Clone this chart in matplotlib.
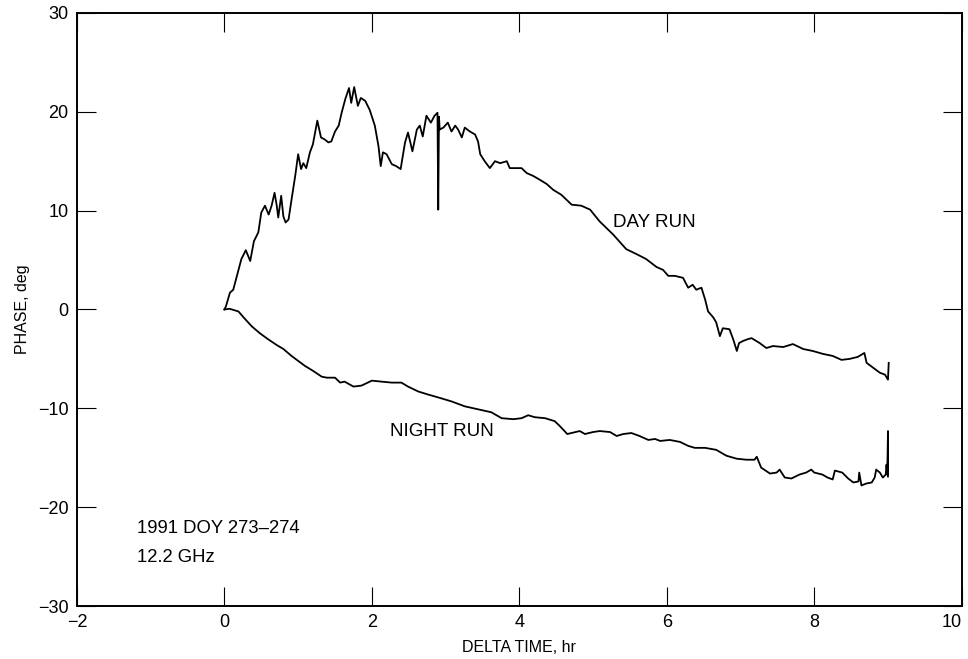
import matplotlib
matplotlib.use('Agg')
import matplotlib.pyplot as plt

plt.rcParams['font.family'] = ['Liberation Sans', 'DejaVu Sans']

# day run
day_t = [0.0, 0.02, 0.075, 0.12, 0.19, 0.23, 0.29, 0.35, 0.40, 0.46, 0.50, 0.55, 0.60, 0.64,
         0.68, 0.71, 0.73, 0.77, 0.80, 0.83, 0.87, 0.91, 0.96, 1.00, 1.04, 1.07, 1.11, 1.16,
         1.20, 1.26, 1.31, 1.36, 1.41, 1.45, 1.50, 1.55, 1.59, 1.64, 1.69, 1.72, 1.76, 1.81,
         1.85, 1.91, 1.97, 2.04, 2.09, 2.12, 2.15, 2.20, 2.27, 2.33, 2.39, 2.45, 2.49, 2.55,
         2.61, 2.65, 2.69, 2.74, 2.80, 2.85, 2.89, 2.90, 2.91, 2.92, 2.97, 3.03, 3.08, 3.13,
         3.17, 3.22, 3.26, 3.33, 3.40, 3.44, 3.47, 3.53, 3.60, 3.67, 3.74, 3.83, 3.87, 3.94,
         4.03, 4.10, 4.19, 4.26, 4.37, 4.46, 4.57, 4.71, 4.84, 4.96, 5.09, 5.27, 5.45, 5.59,
         5.72, 5.86, 5.95, 6.02, 6.11, 6.22, 6.29, 6.35, 6.40, 6.47, 6.52, 6.56, 6.63, 6.67,
         6.72, 6.76, 6.85, 6.90, 6.95, 6.98, 7.03, 7.10, 7.15, 7.26, 7.35, 7.44, 7.58, 7.71,
         7.85, 7.98, 8.12, 8.25, 8.37, 8.48, 8.59, 8.68, 8.71, 8.80, 8.89, 8.96, 9.00, 9.01]
day_phase = [0.0, 0.3, 1.7, 2.0, 4.0, 5.1, 6.0, 4.9, 6.9, 7.8, 9.8, 10.5, 9.6, 10.5,
             11.8, 10.5, 9.3, 11.5, 9.4, 8.8, 9.1, 11.1, 13.5, 15.7, 14.2, 14.8, 14.3, 15.9,
             16.7, 19.1, 17.4, 17.2, 16.9, 17.0, 18.0, 18.6, 19.9, 21.3, 22.4, 20.9, 22.5, 20.6,
             21.4, 21.1, 20.2, 18.6, 16.5, 14.5, 15.9, 15.7, 14.7, 14.5, 14.2, 16.9, 17.9, 16.0,
             18.2, 18.6, 17.5, 19.6, 18.9, 19.6, 19.9, 10.1, 19.5, 18.2, 18.4, 18.9, 18.0, 18.6,
             18.2, 17.4, 18.4, 18.0, 17.7, 17.0, 15.7, 15.0, 14.3, 15.0, 14.8, 15.0, 14.3, 14.3,
             14.3, 13.8, 13.5, 13.2, 12.7, 12.1, 11.6, 10.6, 10.5, 10.1, 8.9, 7.6, 6.1, 5.6,
             5.1, 4.3, 4.0, 3.4, 3.4, 3.2, 2.2, 2.5, 2.0, 2.2, 1.0, -0.2, -0.8, -1.3,
             -2.7, -1.9, -2.0, -3.0, -4.2, -3.4, -3.2, -3.0, -2.9, -3.4, -3.9, -3.7, -3.8, -3.5,
             -4.0, -4.2, -4.5, -4.7, -5.1, -5.0, -4.8, -4.4, -5.4, -5.9, -6.4, -6.6, -7.1, -5.4]

# night run
night_t = [0.0, 0.07, 0.19, 0.26, 0.37, 0.48, 0.59, 0.71, 0.80, 0.91, 1.00, 1.09, 1.20, 1.32,
           1.39, 1.50, 1.57, 1.63, 1.75, 1.86, 2.00, 2.13, 2.27, 2.40, 2.49, 2.63, 2.76, 2.90,
           3.08, 3.26, 3.44, 3.62, 3.76, 3.92, 4.03, 4.12, 4.21, 4.35, 4.48, 4.55, 4.65, 4.82,
           4.89, 5.00, 5.09, 5.23, 5.32, 5.41, 5.52, 5.63, 5.75, 5.84, 5.91, 6.04, 6.18, 6.29,
           6.38, 6.52, 6.67, 6.81, 6.95, 7.08, 7.19, 7.22, 7.28, 7.40, 7.49, 7.53, 7.60, 7.69,
           7.80, 7.89, 7.96, 8.00, 8.11, 8.18, 8.25, 8.28, 8.38, 8.46, 8.53, 8.60, 8.61, 8.64,
           8.71, 8.78, 8.82, 8.84, 8.89, 8.93, 8.97, 8.98, 8.99, 9.00, 9.00]
night_phase = [0.0, 0.07, -0.2, -0.8, -1.7, -2.4, -3.0, -3.6, -4.0, -4.7, -5.2, -5.7, -6.2, -6.8,
               -6.9, -6.9, -7.4, -7.3, -7.8, -7.7, -7.2, -7.3, -7.4, -7.4, -7.8, -8.3, -8.6, -8.9,
               -9.3, -9.8, -10.1, -10.4, -11.0, -11.1, -11.0, -10.7, -10.9, -11.0, -11.3, -11.8, -12.6, -12.3,
               -12.6, -12.4, -12.3, -12.4, -12.8, -12.6, -12.5, -12.8, -13.2, -13.1, -13.3, -13.2, -13.4, -13.8,
               -14.0, -14.0, -14.2, -14.8, -15.1, -15.2, -15.2, -14.9, -16.0, -16.6, -16.5, -16.2, -17.0, -17.1,
               -16.7, -16.5, -16.2, -16.5, -16.7, -17.0, -17.2, -16.3, -16.5, -17.1, -17.5, -17.4, -16.5, -17.8,
               -17.6, -17.5, -17.0, -16.2, -16.5, -17.0, -16.7, -15.7, -16.7, -12.3, -16.9]

fig = plt.figure(figsize=(9.68, 6.59), dpi=100)
ax = fig.add_axes([0.0795, 0.0804, 0.914, 0.9])

ax.plot(day_t, day_phase, color='black', lw=1.3)
ax.plot(night_t, night_phase, color='black', lw=1.3)

ax.set_xlim(-2, 10)
ax.set_ylim(-30, 30)
ax.set_xticks([-2, 0, 2, 4, 6, 8, 10])
ax.set_yticks([-30, -20, -10, 0, 10, 20, 30])
ax.tick_params(direction='in', length=14, width=0.8, top=True, right=True,
               labelsize=13, pad=6)
ax.get_xticklabels()[-1].set_horizontalalignment('right')
for s in ax.spines.values():
    s.set_linewidth(1.4)

ax.set_xlabel('DELTA TIME, hr', fontsize=11.5, labelpad=6)
ax.set_ylabel('PHASE, deg', fontsize=11.5, labelpad=6)

ax.text(5.27, 8.8, 'DAY RUN', fontsize=13.5, va='center')
ax.text(2.24, -12.3, 'NIGHT RUN', fontsize=13.5, va='center')
ax.text(-1.18, -22.2, '1991 DOY 273\u2013274', fontsize=13.3, va='center')
ax.text(-1.18, -25.1, '12.2 GHz', fontsize=13.3, va='center')

fig.savefig('out.png', dpi=100)
